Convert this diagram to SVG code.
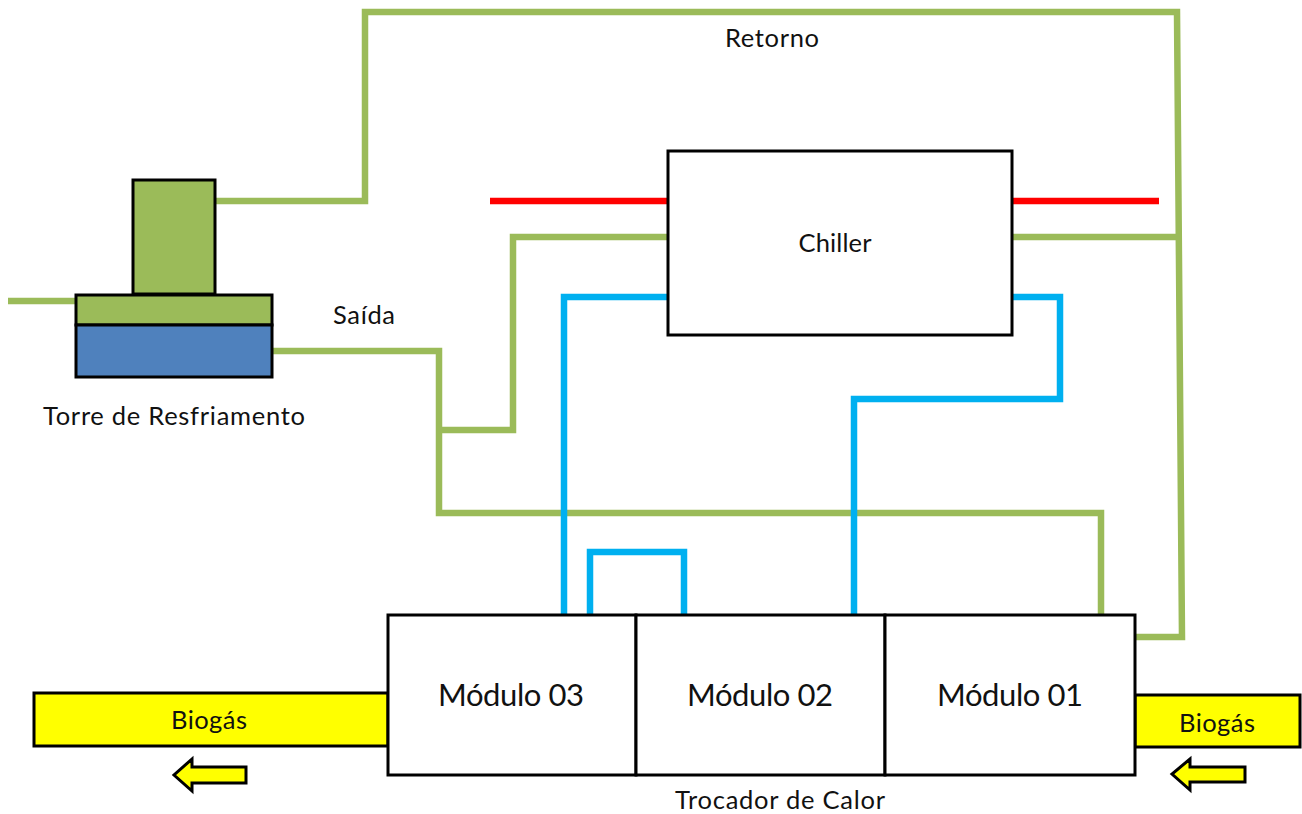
<svg xmlns="http://www.w3.org/2000/svg" width="1302" height="814" viewBox="0 0 1302 814">
<style>
.g{fill:none;stroke:#9bbb59;stroke-width:6.5;stroke-linejoin:miter}
.b{fill:none;stroke:#00b0f0;stroke-width:6.5}
.r{fill:none;stroke:#ff0000;stroke-width:6.5}
.box{stroke:#000;stroke-width:3}
text{font-family:Lato,"Liberation Sans",sans-serif;fill:#111;text-anchor:middle}
.t{font-size:25.5px}
.m{font-size:31px}
</style>
<rect width="1302" height="814" fill="#fff"/>
<g id="connectors">
<path class="g" d="M216 201H365V12H1177L1182 637H1135"/>
<path class="g" d="M1013 237H1180"/>
<path class="g" d="M8 301H76"/>
<path class="g" d="M272 351H439V513H1101V615"/>
<path class="g" d="M439 430H513V237H668"/>
<path class="r" d="M490 201H668"/>
<path class="r" d="M1012 201H1159"/>
<path class="b" d="M668 297H564V615"/>
<path class="b" d="M1012 297H1060V399H854V615"/>
<path class="b" d="M590 615V552H684V615"/>
</g>
<g id="torre">
<rect class="box" x="133" y="180" width="82" height="114" fill="#9bbb59"/>
<rect class="box" x="76" y="295" width="196" height="30" fill="#9bbb59"/>
<rect class="box" x="76" y="325" width="196" height="52" fill="#4f81bd"/>
<text class="t" x="174" y="425" textLength="262">Torre de Resfriamento</text>
</g>
<g id="chiller">
<rect class="box" x="668" y="151" width="344" height="184" fill="#fff"/>
<text class="t" x="835" y="252" textLength="73">Chiller</text>
</g>
<g id="biogas-saida">
<rect class="box" x="34" y="693" width="354" height="53" fill="#ffff00"/>
<text class="t" x="209" y="729" textLength="76">Biogás</text>
<path class="box" d="M246 767V783H192V791L174 775L192 759V767Z" fill="#ffff00"/>
</g>
<g id="biogas-entrada">
<rect class="box" x="1135" y="695" width="165" height="52" fill="#ffff00"/>
<text class="t" x="1217" y="732" textLength="76">Biogás</text>
<path class="box" d="M1245 767V782H1190V790L1172 774L1190 759V767Z" fill="#ffff00"/>
</g>
<g id="modulo-03">
<rect class="box" x="388" y="615" width="248" height="160" fill="#fff"/>
<text class="m" x="511" y="706" textLength="146">Módulo 03</text>
</g>
<g id="modulo-02">
<rect class="box" x="636" y="615" width="249" height="160" fill="#fff"/>
<text class="m" x="760" y="706" textLength="146">Módulo 02</text>
</g>
<g id="modulo-01">
<rect class="box" x="885" y="615" width="250" height="160" fill="#fff"/>
<text class="m" x="1010" y="706" textLength="146">Módulo 01</text>
</g>
<g id="labels">
<text class="t" x="772" y="47" textLength="94">Retorno</text>
<text class="t" x="364" y="324" textLength="62">Saída</text>
<text class="t" x="780" y="809" textLength="210">Trocador de Calor</text>
</g>
</svg>
